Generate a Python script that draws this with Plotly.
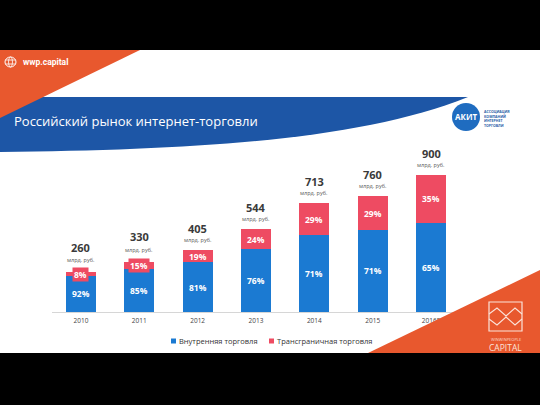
import plotly.graph_objects as go

# ---------------- data ----------------
years = ["2010", "2011", "2012", "2013", "2014", "2015", "2016E"]
totals = [260, 330, 405, 544, 713, 760, 900]
domestic_pct = [92, 85, 81, 76, 71, 71, 65]
cross_pct = [8, 15, 19, 24, 29, 29, 35]
series_names = ["Внутренняя торговля", "Трансграничная торговля"]
unit_label = "млрд. руб."
title_text = "Российский рынок интернет-торговли"

domestic = [t * p / 100 for t, p in zip(totals, domestic_pct)]
cross = [t * p / 100 for t, p in zip(totals, cross_pct)]

W, H = 540, 405
BLUE_BAR = "#1B7AD2"
RED_BAR = "#EE4B62"
BAND = "#1D56A6"
ORANGE = "#E8582E"


def px(x, y):
    return x / W, 1 - y / H


def path(points, close=True):
    s = ""
    for i, (x, y) in enumerate(points):
        a, b = px(x, y)
        s += ("M" if i == 0 else "L") + f"{a:.5f},{b:.5f} "
    return s + ("Z" if close else "")


fig = go.Figure()
fig.add_trace(go.Bar(x=years, y=domestic, name=series_names[0], marker=dict(color=BLUE_BAR, line=dict(width=0)),
                     hoverinfo="skip", showlegend=False))
fig.add_trace(go.Bar(x=years, y=cross, name=series_names[1], marker=dict(color=RED_BAR, line=dict(width=0)),
                     hoverinfo="skip", showlegend=False))

# plot-area geometry (pixels)
base_px, top_px = 312, 159.8
x_left, x_right = 51.8, 460.2

ann = []
for i, yr in enumerate(years):
    ann.append(dict(x=i, y=domestic[i] / 2, xref="x", yref="y", text=f"<b>{domestic_pct[i]}%</b>",
                    showarrow=False, font=dict(family="Open Sans", size=8.5, color="white")))
    small = cross[i] < 60
    ann.append(dict(x=i, y=domestic[i] + cross[i] / 2, xref="x", yref="y", text=f"<b>{cross_pct[i]}%</b>",
                    showarrow=False, font=dict(family="Open Sans", size=8.5, color="white"),
                    bgcolor=RED_BAR if small else None, borderpad=1))
    ann.append(dict(x=i, y=totals[i], xref="x", yref="y", text=f"<b>{totals[i]}</b>", showarrow=False,
                    yanchor="middle", yshift=25 if small else 22,
                    font=dict(family="Open Sans", size=11, color="#3A3A3A")))
    ann.append(dict(x=i, y=totals[i], xref="x", yref="y", text=unit_label, showarrow=False,
                    yanchor="middle", yshift=12 if small else 10,
                    font=dict(family="Open Sans", size=5.5, color="#555555")))

# title & header texts
tx, ty = px(12, 121)
ann.append(dict(x=tx, y=ty, xref="paper", yref="paper", text=title_text, showarrow=False, xanchor="left",
                yanchor="middle", font=dict(family="Open Sans", size=13, color="white")))
tx, ty = px(21, 62)
ann.append(dict(x=tx, y=ty, xref="paper", yref="paper", text="<b>wwp.capital</b>", showarrow=False,
                xanchor="left", yanchor="middle", font=dict(family="Roboto", size=8.5, color="white")))
# AKIT
tx, ty = px(466, 117)
ann.append(dict(x=tx, y=ty, xref="paper", yref="paper", text="<b>АКИТ</b>", showarrow=False,
                xanchor="center", yanchor="middle", font=dict(family="Open Sans", size=8, color="white")))
tx, ty = px(482, 118)
ann.append(dict(x=tx, y=ty, xref="paper", yref="paper",
                text="<b>АССОЦИАЦИЯ<br>КОМПАНИЙ<br>ИНТЕРНЕТ<br>ТОРГОВЛИ</b>", showarrow=False,
                xanchor="left", yanchor="middle", align="left",
                font=dict(family="Open Sans", size=3.5, color="#2B5FA8")))
# CAPITAL logo text
tx, ty = px(505.5, 339)
ann.append(dict(x=tx, y=ty, xref="paper", yref="paper", text="WINWINPEOPLE", showarrow=False,
                xanchor="center", yanchor="middle", font=dict(family="Open Sans", size=4, color="#FBD9CC")))
tx, ty = px(505.5, 347)
ann.append(dict(x=tx, y=ty, xref="paper", yref="paper", text="CAPITAL", showarrow=False,
                xanchor="center", yanchor="middle", font=dict(family="Open Sans", size=8.5, color="#FBE3DA")))

# legend (manual)
for (tx0, name) in [(177, series_names[0]), (275, series_names[1])]:
    a, b = px(tx0, 341)
    ann.append(dict(x=a, y=b, xref="paper", yref="paper", text=name, showarrow=False, xanchor="left",
                    yanchor="middle", font=dict(family="Open Sans", size=7.5, color="#333333")))

shapes = []
# blue header band with curved lower edge
b0 = px(0, 97); b1 = px(468, 97)
c1 = px(360, 140); c2 = px(200, 150); e = px(0, 152)
band_path = (f"M{b0[0]:.5f},{b0[1]:.5f} L{b1[0]:.5f},{b1[1]:.5f} "
             f"C{c1[0]:.5f},{c1[1]:.5f} {c2[0]:.5f},{c2[1]:.5f} {e[0]:.5f},{e[1]:.5f} Z")
shapes.append(dict(type="path", xref="paper", yref="paper", path=band_path, fillcolor=BAND,
                   line=dict(width=0), layer="below"))
# orange top-left triangle
shapes.append(dict(type="path", xref="paper", yref="paper", path=path([(0, 50), (140, 50), (0, 118)]),
                   fillcolor=ORANGE, line=dict(width=0), layer="below"))
# legend squares
for (sx, col) in [(171, BLUE_BAR), (269, RED_BAR)]:
    a0, b0_ = px(sx, 338.5)
    a1, b1_ = px(sx + 5, 343.5)
    shapes.append(dict(type="rect", xref="paper", yref="paper", x0=a0, x1=a1, y0=b1_, y1=b0_,
                       fillcolor=col, line=dict(width=0), layer="above"))
# orange bottom-right triangle
shapes.append(dict(type="path", xref="paper", yref="paper", path=path([(368, 353), (540, 270), (540, 353)]),
                   fillcolor=ORANGE, line=dict(width=0), layer="above"))
# CAPITAL icon
r0 = px(489, 302); r1 = px(522, 331)
shapes.append(dict(type="rect", xref="paper", yref="paper", x0=r0[0], x1=r1[0], y0=r1[1], y1=r0[1],
                   fillcolor="rgba(0,0,0,0)", line=dict(color="#FBE3DA", width=1.2), layer="above"))
shapes.append(dict(type="path", xref="paper", yref="paper",
                   path=path([(489, 314), (497, 308), (506, 316), (515, 308), (522, 314)], close=False),
                   fillcolor="rgba(0,0,0,0)", line=dict(color="#FBE3DA", width=1.1), layer="above"))
shapes.append(dict(type="path", xref="paper", yref="paper",
                   path=path([(489, 319), (497, 325), (506, 317), (515, 325), (522, 319)], close=False),
                   fillcolor="rgba(0,0,0,0)", line=dict(color="#FBE3DA", width=1.1), layer="above"))
# AKIT circle
c0 = px(452, 103); c1_ = px(480, 131)
shapes.append(dict(type="circle", xref="paper", yref="paper", x0=c0[0], x1=c1_[0], y0=c1_[1], y1=c0[1],
                   fillcolor="#1F6CC0", line=dict(width=0), layer="above"))
# globe icon
g0 = px(5, 57); g1 = px(16, 67)
shapes.append(dict(type="circle", xref="paper", yref="paper", x0=g0[0], x1=g1[0], y0=g1[1], y1=g0[1],
                   fillcolor="rgba(0,0,0,0)", line=dict(color="white", width=1), layer="above"))
g0 = px(8.5, 57); g1 = px(12.5, 67)
shapes.append(dict(type="circle", xref="paper", yref="paper", x0=g0[0], x1=g1[0], y0=g1[1], y1=g0[1],
                   fillcolor="rgba(0,0,0,0)", line=dict(color="white", width=0.8), layer="above"))
for yy in (60, 64):
    a0, bb = px(5.5, yy); a1, _ = px(15.5, yy)
    shapes.append(dict(type="line", xref="paper", yref="paper", x0=a0, x1=a1, y0=bb, y1=bb,
                       line=dict(color="white", width=0.8), layer="above"))
# black letterbox bars
shapes.append(dict(type="rect", xref="paper", yref="paper", x0=0, x1=1, y0=1 - 50 / H, y1=1,
                   fillcolor="black", line=dict(width=0), layer="above"))
shapes.append(dict(type="rect", xref="paper", yref="paper", x0=0, x1=1, y0=0, y1=1 - 353 / H,
                   fillcolor="black", line=dict(width=0), layer="above"))

fig.update_layout(
    width=W, height=H, margin=dict(l=0, r=0, t=0, b=0),
    paper_bgcolor="white", plot_bgcolor="rgba(0,0,0,0)",
    barmode="stack", bargap=0.486,
    xaxis=dict(domain=[x_left / W, x_right / W], type="category", range=[-0.5, 6.5],
               showline=True, linecolor="#D6D6D6", linewidth=1.2, showgrid=False, ticks="",
               tickfont=dict(family="Open Sans", size=6.5, color="#444444"), ticklabelstandoff=2,
               fixedrange=True),
    yaxis=dict(domain=[(H - base_px) / H, (H - top_px) / H], range=[0, 1000], visible=False, fixedrange=True),
    annotations=ann, shapes=shapes, showlegend=False,
)

fig.write_html("out.html", config={"displayModeBar": False},
               post_script="document.body.style.margin='0';document.body.style.overflow='hidden';")
